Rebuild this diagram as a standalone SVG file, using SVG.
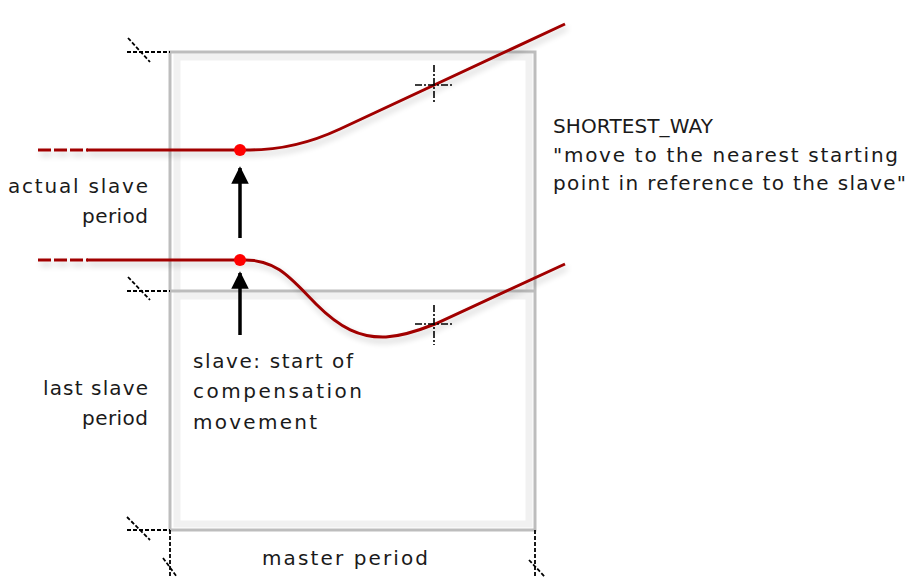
<svg xmlns="http://www.w3.org/2000/svg" width="919" height="577" viewBox="0 0 919 577">
<style>
.frame{fill:none;stroke:#bdbdbd;stroke-width:3}
.halo{fill:none;stroke:#f1f1f1;stroke-width:7}
.tick{fill:none;stroke:#000;stroke-width:1.8;stroke-dasharray:4 2}
.cross{fill:none;stroke:#000;stroke-width:1.6;stroke-dasharray:7 2 2 2}
.curve{fill:none;stroke:#a10000;stroke-width:3}
.dash{fill:none;stroke:#a10000;stroke-width:3;stroke-dasharray:13 3}
.dot{fill:#ff0000}
.arrow{stroke:#000;stroke-width:3.5;fill:none}
text{font-family:"DejaVu Sans","Liberation Sans",sans-serif;font-size:20px;fill:#1a1a1a}
</style>
<defs>
<filter id="sh" x="-10%" y="-30%" width="120%" height="160%">
<feGaussianBlur in="SourceAlpha" stdDeviation="3"/>
<feOffset dx="2" dy="4" result="b"/>
<feComponentTransfer><feFuncA type="linear" slope="0.22"/></feComponentTransfer>
<feMerge><feMergeNode/><feMergeNode in="SourceGraphic"/></feMerge>
</filter>
<marker id="ah" viewBox="0 0 10 10" refX="9" refY="5" markerWidth="5" markerHeight="5.4" orient="auto" markerUnits="strokeWidth">
<path d="M0,0 L10,5 L0,10 z" fill="#000"/>
</marker>
</defs>
<rect width="919" height="577" fill="#fff"/>
<g id="frame">
<path class="halo" d="M177,57 H529 V524 H177 Z M177,296 H529"/>
<rect class="frame" x="170" y="52" width="365" height="478"/>
<line class="frame" x1="170" y1="291" x2="535" y2="291"/>
</g>
<g id="ticks">
<line class="tick" x1="127" y1="52" x2="170" y2="52"/>
<line class="tick" x1="128" y1="38" x2="150" y2="62"/>
<line class="tick" x1="127" y1="291" x2="170" y2="291"/>
<line class="tick" x1="128" y1="277" x2="150" y2="300"/>
<line class="tick" x1="127" y1="530" x2="170" y2="530"/>
<line class="tick" x1="127" y1="517" x2="150" y2="540"/>
<line class="tick" x1="170" y1="530" x2="170" y2="577"/>
<line class="tick" x1="163" y1="558" x2="177" y2="577"/>
<line class="tick" x1="535" y1="530" x2="535" y2="577"/>
<line class="tick" x1="529" y1="560" x2="545" y2="577"/>
</g>
<g id="curves" filter="url(#sh)">
<line class="dash" x1="38" y1="150" x2="88" y2="150"/>
<path class="curve" d="M87,150 H250 Q295,150 340,129 L565,24"/>
<line class="dash" x1="38" y1="260" x2="88" y2="260"/>
<path class="curve" d="M87,260 H245 C278,260 292,280 316,304 C340,328 360,338 386,337 C402,336 420,330 435,324 L565,264"/>
</g>
<g id="crosses">
<line class="cross" x1="415" y1="85" x2="453" y2="85"/>
<line class="cross" x1="434" y1="65" x2="434" y2="104"/>
<line class="cross" x1="415" y1="324" x2="453" y2="324"/>
<line class="cross" x1="434" y1="305" x2="434" y2="345"/>
</g>
<g id="dots">
<circle class="dot" cx="240" cy="150" r="6"/>
<circle class="dot" cx="240" cy="260" r="6"/>
</g>
<g id="connectors">
<line class="arrow" x1="240" y1="238" x2="240" y2="168" marker-end="url(#ah)"/>
<line class="arrow" x1="240" y1="335" x2="240" y2="273" marker-end="url(#ah)"/>
</g>
<g id="labels">
<text x="148" y="193" text-anchor="end" textLength="140" lengthAdjust="spacing">actual slave</text>
<text x="148" y="223" text-anchor="end" textLength="66" lengthAdjust="spacing">period</text>
<text x="148" y="395" text-anchor="end" textLength="105" lengthAdjust="spacing">last slave</text>
<text x="148" y="425" text-anchor="end" textLength="66" lengthAdjust="spacing">period</text>
<text x="193" y="368" textLength="160" lengthAdjust="spacing">slave: start of</text>
<text x="193" y="398" textLength="169" lengthAdjust="spacing">compensation</text>
<text x="193" y="429" textLength="124" lengthAdjust="spacing">movement</text>
<text x="262" y="565" textLength="166" lengthAdjust="spacing">master period</text>
<text x="553" y="133" textLength="160" lengthAdjust="spacing">SHORTEST_WAY</text>
<text x="553" y="162" textLength="345" lengthAdjust="spacing">"move to the nearest starting</text>
<text x="553" y="190" textLength="353" lengthAdjust="spacing">point in reference to the slave"</text>
</g>
</svg>
